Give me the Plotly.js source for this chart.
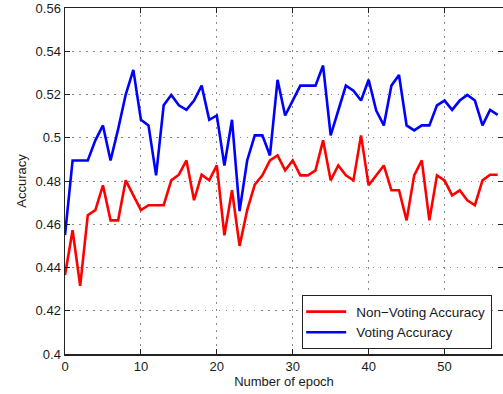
<!DOCTYPE html>
<html>
<head>
<meta charset="utf-8">
<script src="https://cdn.plot.ly/plotly-3.0.1.min.js"></script>
<style>html,body{margin:0;padding:0;background:#fff;}#chart{width:503px;height:394px;}</style>
</head>
<body>
<div id="chart"></div>
<script>
const epochs = Array.from({length: 58}, (_, i) => i);
const nonVoting = [0.4365,0.4572,0.4315,0.4642,0.4665,0.4780,0.4618,0.4618,0.4803,0.4734,
0.4665,0.4688,0.4688,0.4688,0.4803,0.4829,0.4895,0.4711,0.4829,0.4803,
0.4872,0.4549,0.4757,0.4500,0.4665,0.4783,0.4826,0.4895,0.4918,0.4849,
0.4895,0.4826,0.4826,0.4849,0.4988,0.4803,0.4872,0.4826,0.4803,0.5011,
0.4780,0.4826,0.4872,0.4757,0.4757,0.4618,0.4826,0.4895,0.4618,0.4826,
0.4803,0.4734,0.4757,0.4711,0.4688,0.4803,0.4829,0.4829];
const voting = [0.4550,0.4895,0.4895,0.4895,0.4988,0.5057,0.4895,0.5040,0.5200,0.5314,
0.5083,0.5057,0.4826,0.5150,0.5198,0.5150,0.5129,0.5172,0.5241,0.5083,
0.5103,0.4872,0.5083,0.4661,0.4895,0.5011,0.5011,0.4918,0.5268,0.5103,
0.5172,0.5241,0.5241,0.5241,0.5334,0.5011,0.5126,0.5241,0.5218,0.5172,
0.5268,0.5126,0.5057,0.5241,0.5290,0.5057,0.5034,0.5057,0.5057,0.5150,
0.5172,0.5129,0.5172,0.5198,0.5172,0.5057,0.5129,0.5106];
const yTicks = [0.4,0.42,0.44,0.46,0.48,0.5,0.52,0.54,0.56];
const yTickText = ['0.4','0.42','0.44','0.46','0.48','0.5','0.52','0.54','0.56'];
const xTicks = [0,10,20,30,40,50];
const xTickText = ['0','10','20','30','40','50'];

const font = {family: 'Liberation Sans, Arial, Helvetica, sans-serif', size: 13, color: '#1a1a1a'};
const traces = [
  {x: epochs, y: nonVoting, type: 'scatter', mode: 'lines', name: 'Non\u2212Voting Accuracy',
   line: {color: '#ff0000', width: 2.6}},
  {x: epochs, y: voting, type: 'scatter', mode: 'lines', name: 'Voting Accuracy',
   line: {color: '#0000ff', width: 2.6}}
];
const axisCommon = {
  showline: true, linecolor: '#222', linewidth: 1.5, mirror: 'ticks',
  ticks: 'inside', ticklen: 5, tickcolor: '#222', tickwidth: 1,
  showgrid: true, gridcolor: '#888', griddash: '1.5px,5.5px', gridwidth: 1,
  zeroline: false, tickfont: font
};
const layout = {
  width: 503, height: 394,
  margin: {l: 65, r: 0, t: 8, b: 40},
  paper_bgcolor: '#fff', plot_bgcolor: '#fff',
  font: font,
  xaxis: Object.assign({}, axisCommon, {
    range: [0, 57.7], tickvals: xTicks, ticktext: xTickText,
    title: {text: 'Number of epoch', font: font, standoff: 4}
  }),
  yaxis: Object.assign({}, axisCommon, {
    range: [0.4, 0.56], tickvals: yTicks, ticktext: yTickText,
    title: {text: 'Accuracy', font: font, standoff: 6}
  }),
  legend: {
    x: 0.541, y: 0.17, xanchor: 'left', yanchor: 'top',
    bgcolor: '#fff', bordercolor: '#222', borderwidth: 1.2,
    font: {family: font.family, size: 13.5, color: '#1a1a1a'},
    tracegroupgap: 0, itemwidth: 43
  },
  showlegend: true
};
Plotly.newPlot('chart', traces, layout, {staticPlot: true, displayModeBar: false}).then(function () {
  document.querySelectorAll('#chart .legendlines path').forEach(function (p) {
    p.setAttribute('d', 'M3,0h40');
  });
});
</script>
</body>
</html>
